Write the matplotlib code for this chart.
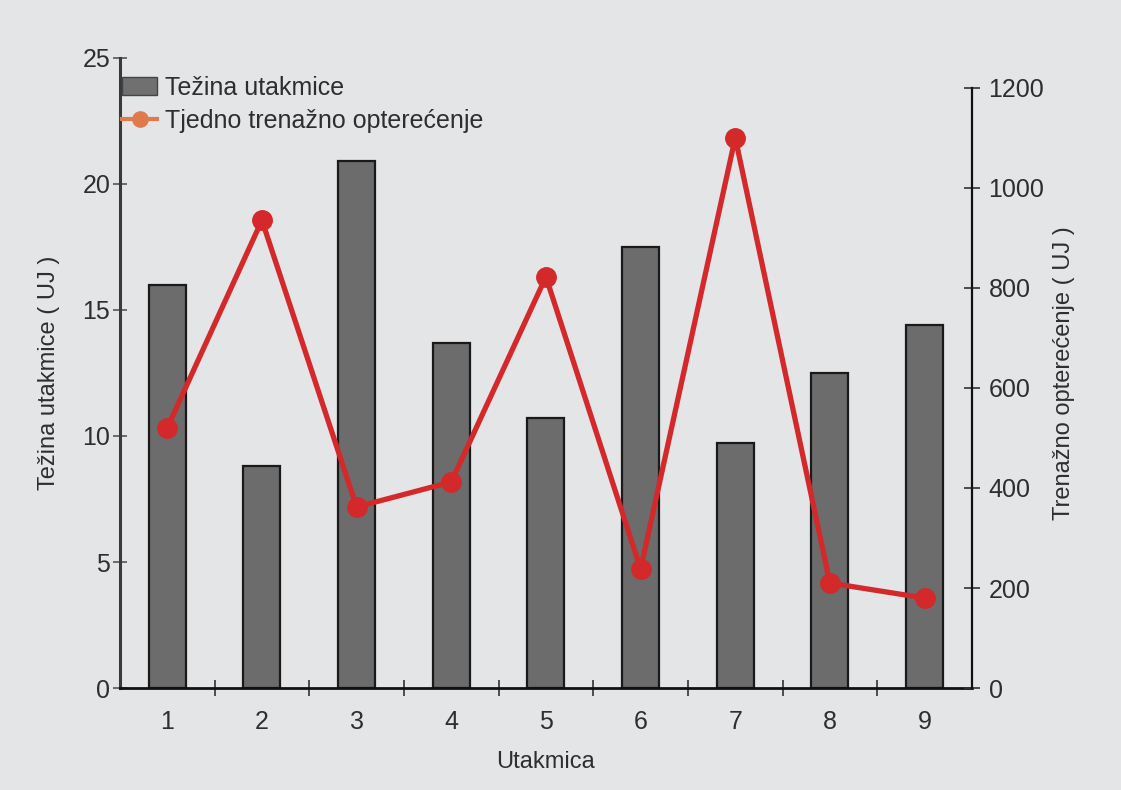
import numpy as np
import matplotlib
matplotlib.use("Agg")
import matplotlib.pyplot as plt
from matplotlib.patches import Patch
from matplotlib.lines import Line2D

plt.rcParams['font.family'] = ['Liberation Sans', 'DejaVu Sans']

# ========== 数据 ==========
utakmice = [1, 2, 3, 4, 5, 6, 7, 8, 9]
tezina = [16.0, 8.8, 20.9, 13.7, 10.7, 17.5, 9.7, 12.5, 14.4]          # Težina utakmice (UJ)
opterecenje = [520, 935, 362, 412, 822, 238, 1100, 210, 180]          # Tjedno trenažno opterećenje (UJ)

bg = "#e4e5e7"
txt = "#2e2e2e"

fig = plt.figure(figsize=(11.21, 7.90), dpi=100, facecolor=bg)
ax = fig.add_axes([0.107, 0.129, 0.760, 0.798])
ax.set_facecolor(bg)

# 柱状图
ax.bar(utakmice, tezina, width=0.39, color="#6c6c6c", edgecolor="#1a1a1a", linewidth=1.6, zorder=2)
ax.set_xlim(0.5, 9.5)
ax.set_ylim(0, 25)
ax.set_yticks([0, 5, 10, 15, 20, 25])
ax.set_xticks(utakmice)
ax.set_xticks(np.arange(1.5, 9.5, 1), minor=True)

ax.spines['top'].set_visible(False)
ax.spines['right'].set_visible(False)
ax.spines['left'].set_color("#3a3a3a")
ax.spines['left'].set_linewidth(2.2)
ax.spines['bottom'].set_color("#111111")
ax.spines['bottom'].set_linewidth(2.0)

ax.tick_params(axis='y', direction='inout', length=10, width=1.2, color="#555555",
               labelsize=18, labelcolor=txt, pad=2)
ax.tick_params(axis='x', which='major', length=0, labelsize=18, labelcolor=txt, pad=16)
ax.tick_params(axis='x', which='minor', direction='inout', length=12, width=1.2, color="#333333")

ax.set_xlabel("Utakmica", fontsize=17, color=txt, labelpad=12)
ax.set_ylabel("Težina utakmice ( UJ )", fontsize=17, color=txt, labelpad=16)

# 折线图（右轴）
ax2 = ax.twinx()
ax2.plot(utakmice, opterecenje, color="#d3292a", linewidth=3.8, marker='o',
         markersize=14, zorder=3)
ax2.set_ylim(0, 1260)
ax2.set_yticks([0, 200, 400, 600, 800, 1000, 1200])
for s in ['top', 'left', 'bottom']:
    ax2.spines[s].set_visible(False)
ax2.spines['right'].set_bounds(0, 1200)
ax2.spines['right'].set_color("#111111")
ax2.spines['right'].set_linewidth(1.6)
ax2.tick_params(axis='y', direction='inout', length=12, width=1.2, color="#333333",
                labelsize=18, labelcolor=txt, pad=6)
ax2.set_ylabel("Trenažno opterećenje ( UJ )", fontsize=17, color=txt, labelpad=6)

# 图例
handles = [Patch(facecolor="#707070", edgecolor="#444444", label="Težina utakmice"),
           Line2D([0], [0], color="#e07a4c", linewidth=3, marker='o', markersize=11,
                  label="Tjedno trenažno opterećenje")]
ax.legend(handles=handles, loc='upper left', bbox_to_anchor=(0.0, 0.975), frameon=False,
          fontsize=18, handlelength=1.4, handletextpad=0.3, labelspacing=0.35,
          borderaxespad=0.0, borderpad=0.1, labelcolor=txt)

fig.savefig("out.png", dpi=100, facecolor=bg)
